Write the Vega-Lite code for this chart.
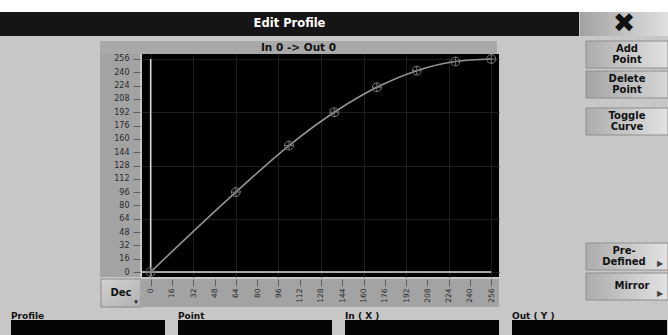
{
  "$schema": "https://vega.github.io/schema/vega-lite/v6.json",
  "background": "#c7c7c7",
  "padding": 0,
  "spacing": 0,
  "config": {
    "view": {"stroke": null},
    "font": "DejaVu Sans",
    "concat": {"spacing": 0},
    "text": {"font": "DejaVu Sans", "fontWeight": "bold", "color": "#111"}
  },
  "datasets": {
    "profile": [
      {"in": 0, "out": 0},
      {"in": 64, "out": 96},
      {"in": 104, "out": 152},
      {"in": 138, "out": 192},
      {"in": 170, "out": 222},
      {"in": 200, "out": 242},
      {"in": 229, "out": 253},
      {"in": 256, "out": 256}
    ]
  },
  "vconcat": [
    {"width": 668, "height": 12, "view": {"fill": "#ffffff"}, "data": {"values": []}, "mark": "point"},
    {
      "hconcat": [
        {"width": 579, "height": 24, "view": {"fill": "#151515"},
         "data": {"values": [{"t": "Edit Profile"}]},
         "mark": {"type": "text", "color": "#ffffff", "fontSize": 11.5},
         "encoding": {"text": {"field": "t"}}},
        {"width": 1, "height": 24, "data": {"values": []}, "mark": "point"},
        {"width": 88, "height": 24,
         "data": {"values": [{"t": "✖"}]},
         "layer": [
           {"mark": {"type": "rect", "color": {"gradient": "linear", "x1": 0, "y1": 0, "x2": 1, "y2": 0, "stops": [{"offset": 0, "color": "#a2a2a2"}, {"offset": 1, "color": "#e0e0e0"}]}}},
           {"mark": {"type": "text", "fontSize": 27, "color": "#111", "clip": true}, "encoding": {"text": {"field": "t"}}}
         ]}
      ]
    },
    {
      "hconcat": [
        {
          "vconcat": [
            {"width": 580, "height": 5, "data": {"values": []}, "mark": "point"},
            {"hconcat": [
              {"width": 100, "height": 13, "data": {"values": []}, "mark": "point"},
              {"width": 397, "height": 13, "view": {"fill": "#a9a9a9"},
               "data": {"values": [{"t": "In 0 -> Out 0"}]},
               "mark": {"type": "text", "fontSize": 10.5},
               "encoding": {"text": {"field": "t"}}}
            ]},
            {"hconcat": [
              {"width": 100, "height": 223, "data": {"values": []}, "mark": "point"},
              {"width": 40, "height": 223, "view": {"fill": "#a3a3a3"},
               "data": {"name": "profile"},
               "mark": {"type": "point", "opacity": 0},
               "encoding": {"y": {"field": "out", "type": "quantitative",
                 "scale": {"domain": [-6, 262], "nice": false, "zero": false},
                 "axis": {"orient": "left", "offset": -40, "title": null, "domain": false, "grid": false,
                   "values": [0, 16, 32, 48, 64, 80, 96, 112, 128, 144, 160, 176, 192, 208, 224, 240, 256],
                   "tickColor": "#5e5e5e", "tickSize": 7, "labelPadding": 4,
                   "labelFontSize": 8, "labelColor": "#2a2a2a", "labelFont": "DejaVu Sans"}}}},
              {"width": 357, "height": 223, "view": {"fill": "#000000"},
               "layer": [
                 {"data": {"values": [{}]},
                  "mark": {"type": "rule", "color": "#dcdcdc", "strokeWidth": 1.5},
                  "encoding": {"x": {"datum": 0, "type": "quantitative"}, "y": {"datum": 256, "type": "quantitative"}, "y2": {"datum": -6}}},
                 {"data": {"values": [{}]},
                  "mark": {"type": "rule", "color": "#dcdcdc", "strokeWidth": 1.5},
                  "encoding": {"y": {"datum": 0, "type": "quantitative"}, "x": {"datum": -6.5, "type": "quantitative"}, "x2": {"datum": 256}}},
                 {"data": {"name": "profile"},
                  "mark": {"type": "line", "interpolate": "monotone", "color": "#939393", "strokeWidth": 1.6, "clip": true},
                  "encoding": {
                    "x": {"field": "in", "type": "quantitative",
                      "scale": {"domain": [-6.5, 261.8], "nice": false, "zero": false},
                      "axis": {"title": null, "labels": false, "ticks": false, "domain": false, "grid": true, "gridColor": "#1d1d1d", "gridWidth": 1,
                        "values": [0, 16, 32, 48, 64, 80, 96, 112, 128, 144, 160, 176, 192, 208, 224, 240, 256]}},
                    "y": {"field": "out", "type": "quantitative",
                      "scale": {"domain": [-6, 262], "nice": false, "zero": false},
                      "axis": {"title": null, "labels": false, "ticks": false, "domain": false, "grid": true, "gridColor": "#1d1d1d", "gridWidth": 1,
                        "values": [0, 16, 32, 48, 64, 80, 96, 112, 128, 144, 160, 176, 192, 208, 224, 240, 256]}}
                  }},
                 {"data": {"name": "profile"},
                  "mark": {"type": "point", "shape": "M-1,0A1,1,0,1,1,1,0A1,1,0,1,1,-1,0ZM-1,0L1,0M0,-1L0,1", "size": 80, "filled": false, "color": "#767676", "strokeWidth": 1, "opacity": 1, "clip": true},
                  "encoding": {"x": {"field": "in", "type": "quantitative"}, "y": {"field": "out", "type": "quantitative"}}}
               ]}
            ]},
            {"hconcat": [
              {"width": 100, "height": 28, "data": {"values": []}, "mark": "point"},
              {"width": 40, "height": 28,
               "data": {"values": [{"t": "Dec", "a": "▾"}]},
               "layer": [
                 {"mark": {"type": "rect", "stroke": "#8a8a8a", "strokeWidth": 1, "color": {"gradient": "linear", "x1": 0, "y1": 0, "x2": 1, "y2": 1, "stops": [{"offset": 0, "color": "#d2d2d2"}, {"offset": 1, "color": "#b0b0b0"}]}}},
                 {"mark": {"type": "text", "fontSize": 10, "clip": true}, "encoding": {"text": {"field": "t"}}},
                 {"mark": {"type": "text", "fontSize": 7, "dx": 15, "dy": 9, "clip": true}, "encoding": {"text": {"field": "a"}}}
               ]},
              {"width": 357, "height": 28, "view": {"fill": "#a3a3a3"},
               "data": {"name": "profile"},
               "mark": {"type": "point", "opacity": 0},
               "encoding": {"x": {"field": "in", "type": "quantitative",
                 "scale": {"domain": [-6.5, 261.8], "nice": false, "zero": false},
                 "axis": {"orient": "bottom", "offset": -28, "title": null, "domain": false, "grid": false,
                   "values": [0, 16, 32, 48, 64, 80, 96, 112, 128, 144, 160, 176, 192, 208, 224, 240, 256],
                   "tickColor": "#5e5e5e", "tickSize": 7, "labelPadding": 2, "labelAngle": -90,
                   "labelFontSize": 7.5, "labelColor": "#2a2a2a", "labelFont": "DejaVu Sans"}}}}
            ]},
            {"width": 580, "height": 4, "data": {"values": []}, "mark": "point"}
          ]
        },
        {
          "vconcat": [
            {"width": 88, "height": 4, "data": {"values": []}, "mark": "point"},
            {"hconcat": [
              {"width": 5, "height": 27, "data": {"values": []}, "mark": "point"},
              {"width": 82, "height": 27, "data": {"values": [{"t": "Add\nPoint"}]},
               "layer": [
                 {"mark": {"type": "rect", "stroke": "#8e8e8e", "color": {"gradient": "linear", "x1": 0, "y1": 0, "x2": 1, "y2": 0, "stops": [{"offset": 0, "color": "#acacac"}, {"offset": 1, "color": "#e2e2e2"}]}}},
                 {"mark": {"type": "text", "fontSize": 10, "lineBreak": "\n", "lineHeight": 11.5, "dy": -6, "clip": true}, "encoding": {"text": {"field": "t"}}}
               ]}
            ]},
            {"width": 88, "height": 1, "data": {"values": []}, "mark": "point"},
            {"hconcat": [
              {"width": 5, "height": 27, "data": {"values": []}, "mark": "point"},
              {"width": 82, "height": 27, "data": {"values": [{"t": "Delete\nPoint"}]},
               "layer": [
                 {"mark": {"type": "rect", "stroke": "#8e8e8e", "color": {"gradient": "linear", "x1": 0, "y1": 0, "x2": 1, "y2": 0, "stops": [{"offset": 0, "color": "#a4a4a4"}, {"offset": 1, "color": "#d6d6d6"}]}}},
                 {"mark": {"type": "text", "fontSize": 10, "lineBreak": "\n", "lineHeight": 11.5, "dy": -6, "clip": true}, "encoding": {"text": {"field": "t"}}}
               ]}
            ]},
            {"width": 88, "height": 8, "data": {"values": []}, "mark": "point"},
            {"hconcat": [
              {"width": 5, "height": 27, "data": {"values": []}, "mark": "point"},
              {"width": 82, "height": 27, "data": {"values": [{"t": "Toggle\nCurve"}]},
               "layer": [
                 {"mark": {"type": "rect", "stroke": "#8e8e8e", "color": {"gradient": "linear", "x1": 0, "y1": 0, "x2": 1, "y2": 0, "stops": [{"offset": 0, "color": "#acacac"}, {"offset": 1, "color": "#e2e2e2"}]}}},
                 {"mark": {"type": "text", "fontSize": 10, "lineBreak": "\n", "lineHeight": 11.5, "dy": -6, "clip": true}, "encoding": {"text": {"field": "t"}}}
               ]}
            ]},
            {"width": 88, "height": 106, "data": {"values": []}, "mark": "point"},
            {"hconcat": [
              {"width": 5, "height": 27, "data": {"values": []}, "mark": "point"},
              {"width": 82, "height": 27, "data": {"values": [{"t": "Pre-\nDefined", "a": "▶"}]},
               "layer": [
                 {"mark": {"type": "rect", "stroke": "#8e8e8e", "color": {"gradient": "linear", "x1": 0, "y1": 0, "x2": 1, "y2": 0, "stops": [{"offset": 0, "color": "#acacac"}, {"offset": 1, "color": "#e2e2e2"}]}}},
                 {"mark": {"type": "text", "fontSize": 10, "lineBreak": "\n", "lineHeight": 11.5, "dx": -3, "dy": -6, "clip": true}, "encoding": {"text": {"field": "t"}}},
                 {"mark": {"type": "text", "fontSize": 8, "color": "#444", "dx": 33, "dy": 7, "clip": true}, "encoding": {"text": {"field": "a"}}}
               ]}
            ]},
            {"width": 88, "height": 1, "data": {"values": []}, "mark": "point"},
            {"hconcat": [
              {"width": 5, "height": 27, "data": {"values": []}, "mark": "point"},
              {"width": 82, "height": 27, "data": {"values": [{"t": "Mirror", "a": "▶"}]},
               "layer": [
                 {"mark": {"type": "rect", "stroke": "#8e8e8e", "color": {"gradient": "linear", "x1": 0, "y1": 0, "x2": 1, "y2": 0, "stops": [{"offset": 0, "color": "#acacac"}, {"offset": 1, "color": "#e2e2e2"}]}}},
                 {"mark": {"type": "text", "fontSize": 10, "dx": 5, "dy": -1, "clip": true}, "encoding": {"text": {"field": "t"}}},
                 {"mark": {"type": "text", "fontSize": 8, "color": "#444", "dx": 33, "dy": 7, "clip": true}, "encoding": {"text": {"field": "a"}}}
               ]}
            ]}
          ]
        }
      ]
    },
    {
      "hconcat": [
        {"width": 11, "height": 15, "data": {"values": []}, "mark": "point"},
        {"spacing": 13, "hconcat": [
          {"width": 154, "height": 15, "view": {"fill": "#050505"}, "title": {"text": "Profile", "anchor": "start", "fontSize": 9, "font": "DejaVu Sans", "fontWeight": "bold", "color": "#111", "offset": -1}, "data": {"values": []}, "mark": "point"},
          {"width": 154, "height": 15, "view": {"fill": "#050505"}, "title": {"text": "Point", "anchor": "start", "fontSize": 9, "font": "DejaVu Sans", "fontWeight": "bold", "color": "#111", "offset": -1}, "data": {"values": []}, "mark": "point"},
          {"width": 154, "height": 15, "view": {"fill": "#050505"}, "title": {"text": "In ( X )", "anchor": "start", "fontSize": 9, "font": "DejaVu Sans", "fontWeight": "bold", "color": "#111", "offset": -1}, "data": {"values": []}, "mark": "point"},
          {"width": 155, "height": 15, "view": {"fill": "#050505"}, "title": {"text": "Out ( Y )", "anchor": "start", "fontSize": 9, "font": "DejaVu Sans", "fontWeight": "bold", "color": "#111", "offset": -1}, "data": {"values": []}, "mark": "point"}
        ]}
      ]
    }
  ]
}
